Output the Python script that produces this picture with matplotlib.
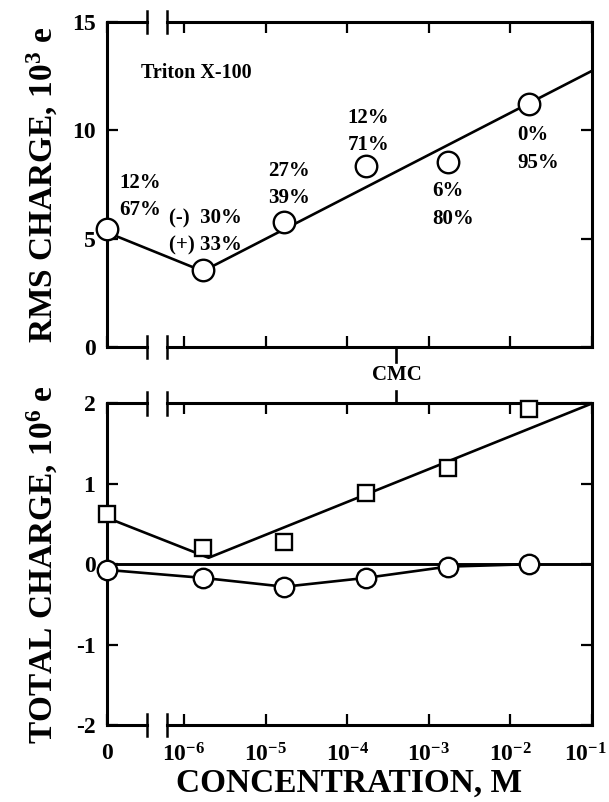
import numpy as np
import matplotlib
matplotlib.use("Agg")
import matplotlib.pyplot as plt
import matplotlib.transforms as mtransforms

plt.rcParams['font.family'] = ['Liberation Serif', 'DejaVu Serif']
plt.rcParams['font.weight'] = 'bold'
plt.rcParams['axes.labelweight'] = 'bold'
plt.rcParams['mathtext.fontset'] = 'custom'
plt.rcParams['mathtext.rm'] = 'Liberation Serif:bold'
plt.rcParams['mathtext.it'] = 'Liberation Serif:bold'
plt.rcParams['mathtext.bf'] = 'Liberation Serif:bold'
plt.rcParams['mathtext.default'] = 'rm'
plt.rcParams['axes.unicode_minus'] = False

# concentrations (M); 0 = no surfactant, drawn left of the axis break
conc = [0, 1.7e-6, 1.7e-5, 1.7e-4, 1.7e-3, 1.7e-2]

# RMS charge (10^3 e) and fitted line
rms = [5.45, 3.55, 5.75, 8.35, 8.55, 11.2]
rms_fit_x = [0, 1.7e-6, 1e-1]
rms_fit_y = [5.3, 3.5, 12.75]
pct_text = ["12%\n67%", "(-)  30%\n(+) 33%", "27%\n39%", "12%\n71%", "6%\n80%", "0%\n95%"]
pct_u = [-6.79, -6.18, -4.97, -4.0, -2.96, -1.92]
pct_y = [6.95, 5.3, 7.5, 9.95, 6.55, 9.15]

# total charge (10^6 e)
tot_sq = [0.63, 0.20, 0.27, 0.89, 1.20, 1.93]
tot_ci = [-0.07, -0.17, -0.28, -0.17, -0.03, 0.0]
sq_fit_x = [0, 2.0e-6, 1e-1]
sq_fit_y = [0.58, 0.08, 2.0]

cmc = 4.0e-4

xticks = [0, 1e-6, 1e-5, 1e-4, 1e-3, 1e-2, 1e-1]
xticklabels = ["0", "10$^{-6}$", "10$^{-5}$", "10$^{-4}$", "10$^{-3}$", "10$^{-2}$", "10$^{-1}$"]

U0 = -6.95                 # where c = 0 sits on the log axis
BRK_LO, BRK_HI = 10 ** -6.46, 10 ** -6.21


def fwd(c):
    c = np.atleast_1d(np.asarray(c, dtype=float))
    out = np.full(c.shape, U0)
    pos = c > 0
    out[pos] = np.log10(c[pos])
    return out


def inv(u):
    return 10.0 ** np.asarray(u, dtype=float)


def setup(ax, ylim, yticks, labels_on):
    ax.set_xscale('function', functions=(fwd, inv))
    ax.set_xlim(0, 1e-1)
    ax.set_ylim(*ylim)
    ax.set_xticks(xticks)
    ax.minorticks_off()
    if labels_on:
        ax.set_xticklabels(xticklabels)
    else:
        ax.set_xticklabels([])
    ax.set_yticks(yticks)
    ax.tick_params(direction='in', length=8, width=1.6, top=True, right=True,
                   labelsize=17, pad=8)
    ax.tick_params(axis='x', pad=13)
    for s in ('left', 'right'):
        ax.spines[s].set_linewidth(2.2)
    ax.spines['top'].set_visible(False)
    ax.spines['bottom'].set_visible(False)
    # split top/bottom axis lines with break marks
    tr = mtransforms.blended_transform_factory(ax.transData, ax.transAxes)
    for yy in (0, 1):
        ax.plot([0, BRK_LO], [yy, yy], color='k', lw=2.2, transform=tr,
                clip_on=False, solid_capstyle='projecting')
        ax.plot([BRK_HI, 1e-1], [yy, yy], color='k', lw=2.2, transform=tr,
                clip_on=False, solid_capstyle='projecting')
        for xb in (BRK_LO, BRK_HI):
            ax.plot([xb, xb], [yy - 0.035, yy + 0.035], color='k', lw=1.8,
                    transform=tr, clip_on=False)
    return tr


fig = plt.figure(figsize=(6.09, 8.02), dpi=100)
ax1 = fig.add_axes([0.1749, 0.5673, 0.7973, 0.4052])
ax2 = fig.add_axes([0.1749, 0.0960, 0.7973, 0.4010])

tr1 = setup(ax1, (0, 15), [0, 5, 10, 15], False)
ax1.plot(rms_fit_x, rms_fit_y, color='k', lw=1.9, zorder=2)
ax1.plot(conc, rms, 'o', ms=15.5, mfc='white', mec='k', mew=1.7,
         zorder=3, clip_on=False)
for t, u, y in zip(pct_text, pct_u, pct_y):
    ax1.text(10 ** u, y, t, fontsize=15, ha='left', va='center',
             linespacing=1.5)
ax1.text(0.072, 0.843, "Triton X-100", transform=ax1.transAxes, fontsize=14.5,
         ha='left', va='center')
ax1.set_ylabel("RMS CHARGE, 10$^3$ e", fontsize=24)
ax1.yaxis.set_label_coords(-0.095, 0.5)

# CMC marker between the panels
ax1.plot([cmc, cmc], [0, -0.047], color='k', lw=1.9, transform=tr1, clip_on=False)
ax1.text(cmc, -0.087, "CMC", transform=tr1, fontsize=15, ha='center', va='center')

tr2 = setup(ax2, (-2, 2), [-2, -1, 0, 1, 2], True)
ax2.axhline(0, color='k', lw=2.1, zorder=1)
ax2.plot(sq_fit_x, sq_fit_y, color='k', lw=1.9, zorder=2)
ax2.plot(conc, tot_ci, color='k', lw=1.9, zorder=2)
ax2.plot(conc, tot_sq, 's', ms=12, mfc='white', mec='k', mew=1.7,
         zorder=3, clip_on=False)
ax2.plot(conc, tot_ci, 'o', ms=14, mfc='white', mec='k', mew=1.7,
         zorder=3, clip_on=False)
ax2.plot([cmc, cmc], [1, 1.04], color='k', lw=1.9, transform=tr2, clip_on=False)
ax2.set_ylabel("TOTAL CHARGE, 10$^6$ e", fontsize=24)
ax2.yaxis.set_label_coords(-0.095, 0.5)
ax2.set_xlabel("CONCENTRATION, M", fontsize=24, labelpad=1)

# keep the last tick label inside the canvas
last = ax2.get_xticklabels()[-1]
last.set_transform(last.get_transform()
                   + mtransforms.ScaledTranslation(-5 / 72, 0, fig.dpi_scale_trans))

fig.savefig("out.png", dpi=100, facecolor='white')
